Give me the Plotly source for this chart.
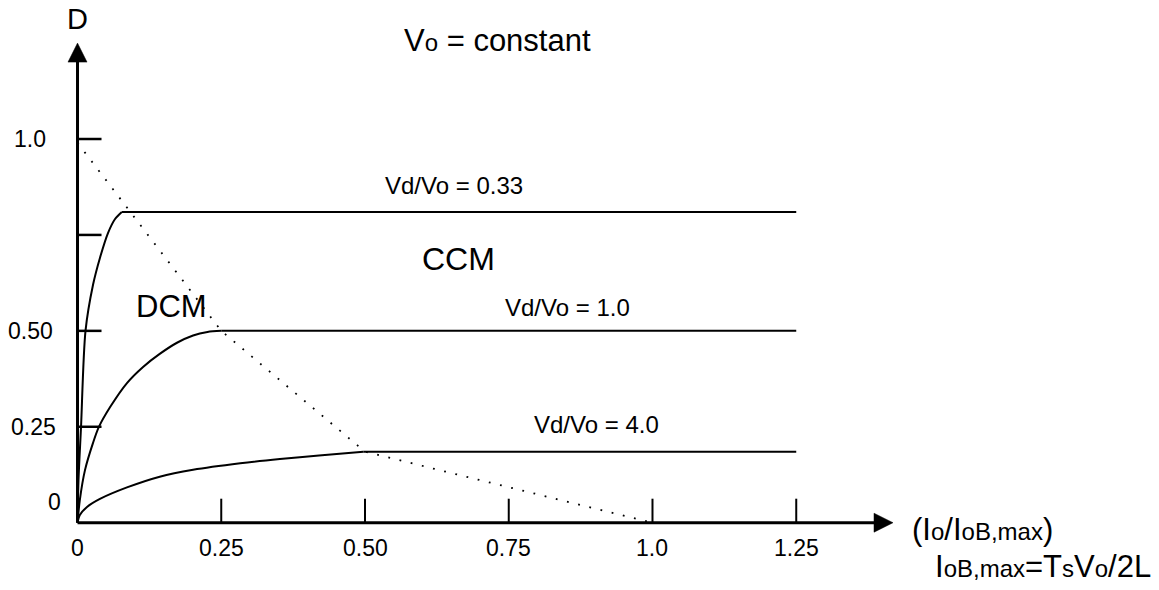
import plotly.graph_objects as go

# ---- data -------------------------------------------------------------
# axis ticks
io_ticks = [0.25, 0.50, 0.75, 1.0, 1.25]
io_tick_text = ["0.25", "0.50", "0.75", "1.0", "1.25"]
d_ticks = [0.25, 0.50, 0.75, 1.0]

# continuous-conduction duty ratio for each Vd/Vo
ratio_labels = ["Vd/Vo = 0.33", "Vd/Vo = 1.0", "Vd/Vo = 4.0"]
d_ccm = [0.81, 0.50, 0.185]
io_ccm_end = 1.25

# discontinuous-conduction branches (Io/IoB,max, D)
dcm_io_033 = [0.0, 0.0017, 0.0061, 0.0139, 0.027, 0.039, 0.053, 0.065, 0.077]
dcm_d_033 = [0.0, 0.111, 0.249, 0.500, 0.620, 0.690, 0.755, 0.791, 0.810]

dcm_io_10 = [0.0, 0.004, 0.013, 0.027, 0.037, 0.057, 0.086, 0.114, 0.143,
             0.173, 0.201, 0.226, 0.25]
dcm_d_10 = [0.0, 0.059, 0.137, 0.208, 0.249, 0.302, 0.364, 0.406, 0.440,
            0.469, 0.488, 0.497, 0.50]

dcm_io_40 = [0.0, 0.004, 0.0165, 0.039, 0.086, 0.143, 0.201, 0.283, 0.352,
             0.420, 0.497]
dcm_d_40 = [0.0, 0.020, 0.041, 0.062, 0.092, 0.120, 0.138, 0.155, 0.166,
            0.175, 0.185]

# CCM / DCM boundary
boundary_io = [0.0, 0.25, 0.50, 1.0]
boundary_d = [0.99, 0.50, 0.185, 0.0]

# ---- figure -----------------------------------------------------------
FONT = "Liberation Sans, Arial, sans-serif"
BLACK = "#000000"

fig = go.Figure()

dcm_branches = [(dcm_io_033, dcm_d_033), (dcm_io_10, dcm_d_10), (dcm_io_40, dcm_d_40)]
for (io, d), d_flat in zip(dcm_branches, d_ccm):
    fig.add_trace(go.Scatter(x=io, y=d, mode="lines",
                             line=dict(color=BLACK, width=2, shape="spline", smoothing=0.8),
                             hoverinfo="skip"))
    fig.add_trace(go.Scatter(x=[io[-1], io_ccm_end], y=[d_flat, d_flat], mode="lines",
                             line=dict(color=BLACK, width=2), hoverinfo="skip"))

fig.add_trace(go.Scatter(x=boundary_io, y=boundary_d, mode="lines",
                         line=dict(color=BLACK, width=1.8, dash="1.8px,9.7px"),
                         hoverinfo="skip"))

shapes = []
X_AXIS_END = 1.387
Y_AXIS_END = 1.203
# axes
shapes.append(dict(type="line", xref="x", yref="y", x0=0, y0=0, x1=X_AXIS_END, y1=0,
                   line=dict(color=BLACK, width=3)))
shapes.append(dict(type="line", xref="x", yref="y", x0=0, y0=0, x1=0, y1=Y_AXIS_END,
                   line=dict(color=BLACK, width=3)))
# arrow heads
shapes.append(dict(type="path", xref="x", yref="y", xsizemode="pixel", ysizemode="pixel",
                   xanchor=X_AXIS_END, yanchor=0, path="M-1,9.5 L18,0 L-1,-9.5 Z",
                   fillcolor=BLACK, line=dict(color=BLACK, width=0.5)))
shapes.append(dict(type="path", xref="x", yref="y", xsizemode="pixel", ysizemode="pixel",
                   xanchor=0, yanchor=Y_AXIS_END, path="M-9.5,-1 L9.5,-1 L0,18 Z",
                   fillcolor=BLACK, line=dict(color=BLACK, width=0.5)))
# tick marks
for v in io_ticks:
    shapes.append(dict(type="line", xref="x", yref="y", ysizemode="pixel", yanchor=0,
                       x0=v, x1=v, y0=0, y1=24, line=dict(color=BLACK, width=2)))
for v in d_ticks:
    shapes.append(dict(type="line", xref="x", yref="y", xsizemode="pixel", xanchor=0,
                       x0=0, x1=24, y0=v, y1=v, line=dict(color=BLACK, width=2.5)))

annotations = []


def label(text, x, y, size, xanchor="center", xshift=0, yshift=0):
    annotations.append(dict(text=text, x=x, y=y, xref="x", yref="y", showarrow=False,
                            xanchor=xanchor, yanchor="middle", xshift=xshift, yshift=yshift,
                            font=dict(family=FONT, size=size, color=BLACK)))


def small(t, size):
    return f"<span style='font-size:{size}px'>{t}</span>"


# x tick labels
for v, t in zip(io_ticks, io_tick_text):
    label(t, v, 0, 23, yshift=-25)
label("0", 0, 0, 23, yshift=-25)
# y tick labels
label("1.0", 0, 1.0, 23, xshift=-48)
label("0.50", 0, 0.50, 23, xshift=-47)
label("0.25", 0, 0.25, 23, xshift=-44)
label("0", 0, 0, 23, xshift=-23, yshift=21)

# axis titles
label("D", 0, 1.312, 29)
label("(I" + small("o", 24) + "/I" + small("oB,max", 24) + ")", 1.448, -0.0165, 31,
      xanchor="left")
label("I" + small("oB,max", 24) + "=T" + small("s", 24) + "V" + small("o", 24) + "/2L",
      1.488, -0.113, 31, xanchor="left")

# headings and region names
label("V" + small("o", 24) + " = constant", 0.731, 1.258, 31)
label("CCM", 0.663, 0.687, 32)
label("DCM", 0.164, 0.564, 31)

# curve labels
label(ratio_labels[0], 0.531, 0.878, 24, xanchor="left")
label(ratio_labels[1], 0.740, 0.562, 24, xanchor="left")
label(ratio_labels[2], 0.790, 0.257, 24, xanchor="left")

fig.update_layout(
    width=1159, height=590,
    margin=dict(l=0, r=0, t=0, b=0),
    paper_bgcolor="white", plot_bgcolor="white",
    showlegend=False,
    xaxis=dict(range=[-0.1348, 1.8809], visible=False, fixedrange=True),
    yaxis=dict(range=[-0.1754, 1.3623], visible=False, fixedrange=True),
    shapes=shapes,
    annotations=annotations,
)

fig.write_html("out.html", config={"displayModeBar": False})
